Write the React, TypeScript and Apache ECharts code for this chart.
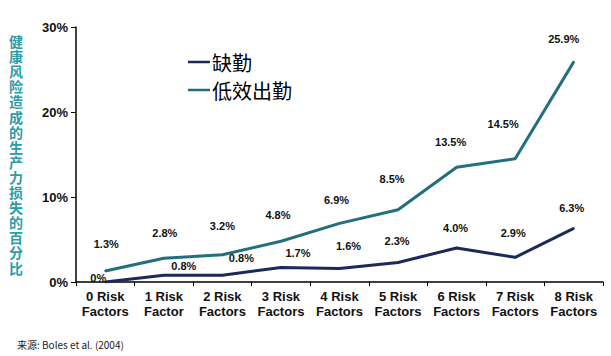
import React, { useEffect, useRef } from "react";
import * as echarts from "echarts";

const categories = [
  "0 Risk\nFactors",
  "1 Risk\nFactor",
  "2 Risk\nFactors",
  "3 Risk\nFactors",
  "4 Risk\nFactors",
  "5 Risk\nFactors",
  "6 Risk\nFactors",
  "7 Risk\nFactors",
  "8 Risk\nFactors",
];
const absenteeism = [0, 0.8, 0.8, 1.7, 1.6, 2.3, 4.0, 2.9, 6.3];
const presenteeism = [1.3, 2.8, 3.2, 4.8, 6.9, 8.5, 13.5, 14.5, 25.9];
const seriesNames = ["缺勤", "低效出勤"];
const yAxisTitle = "健康风险造成的生产力损失的百分比";
const sourceText = "来源: Boles et al. (2004)";

// label nudges (px) from each point, as placed in the original figure
const absLabelNudge = [[-7, -4], [20, -9], [19, -17], [17, -15], [9, -22], [-1, -21], [-1, -20], [-2, -24], [-2, -20]];
const presLabelNudge = [[1, -27], [1, -25], [0, -29], [-3, -26], [-3, -23], [-6, -31], [-6, -25], [-12, -35], [-10, -23]];

const NAVY = "#1B2A58";
const TEAL = "#236F7E";
const FONT = "'Liberation Sans', Arial, sans-serif";
const CJK = "'Noto Sans CJK SC', sans-serif";

export default function App() {
  const ref = useRef<HTMLDivElement>(null);
  useEffect(() => {
    if (!ref.current) return;
    const chart = echarts.init(ref.current, null, { renderer: "svg" });
    const labelFmt = (p: any) => (p.value === 0 ? "0%" : p.value.toFixed(1) + "%");
    const labelStyle = {
      show: true,
      position: "inside",
      formatter: labelFmt,
      fontSize: 11,
      fontWeight: "bold",
      fontFamily: FONT,
      color: "#111",
    };
    const nudge = (arr: number[][]) => (p: any) => {
      const n = arr[p.dataIndex] || [0, 0];
      return { dx: n[0], dy: n[1], hideOverlap: false };
    };
    const titleChars = yAxisTitle.split("").map((ch, i) => ({
      type: "text",
      x: 9,
      y: 34 + i * 15.1,
      style: {
        text: ch,
        fontSize: 14,
        fontWeight: "bold",
        fill: "#2C9CA8",
        fontFamily: CJK,
        textVerticalAlign: "top",
      },
    }));
    chart.setOption({
      animation: false,
      backgroundColor: "#ffffff",
      grid: { left: 76, right: 8, top: 27, bottom: 74 },
      legend: {
        orient: "vertical",
        left: 183,
        top: 47,
        itemWidth: 22,
        itemHeight: 2.5,
        itemGap: 8,
        icon: "rect",
        textStyle: { fontSize: 20, color: "#000", fontFamily: CJK, padding: [0, 0, 0, -3] },
        data: seriesNames,
      },
      xAxis: {
        type: "category",
        data: categories,
        boundaryGap: true,
        axisLine: { lineStyle: { color: "#000", width: 1.5 } },
        axisTick: { show: true, length: 4, inside: false, lineStyle: { color: "#000" } },
        axisLabel: {
          interval: 0,
          color: "#111",
          fontSize: 13,
          fontWeight: "bold",
          fontFamily: FONT,
          lineHeight: 15,
          margin: 7,
        },
      },
      yAxis: {
        type: "value",
        min: 0,
        max: 30,
        interval: 10,
        axisLine: { show: true, lineStyle: { color: "#000", width: 1.5 } },
        axisTick: { show: true, length: 5, lineStyle: { color: "#000" } },
        splitLine: { show: false },
        axisLabel: {
          formatter: "{value}%",
          color: "#111",
          fontSize: 13,
          fontWeight: "bold",
          fontFamily: FONT,
          margin: 8,
        },
      },
      series: [
        {
          name: seriesNames[0],
          type: "line",
          data: absenteeism,
          symbol: "circle",
          symbolSize: 2,
          showSymbol: true,
          color: NAVY,
          lineStyle: { color: NAVY, width: 3 },
          label: labelStyle,
          labelLayout: nudge(absLabelNudge),
        },
        {
          name: seriesNames[1],
          type: "line",
          data: presenteeism,
          symbol: "circle",
          symbolSize: 2,
          showSymbol: true,
          color: TEAL,
          lineStyle: { color: TEAL, width: 3 },
          label: labelStyle,
          labelLayout: nudge(presLabelNudge),
        },
      ],
      graphic: [
        ...titleChars,
        {
          type: "text",
          left: 17,
          top: 339,
          style: {
            text: sourceText,
            fontSize: 10,
            fill: "#222",
            fontFamily: CJK,
          },
        },
      ],
    });
    return () => chart.dispose();
  }, []);
  return <div ref={ref} style={{ width: 611, height: 356, position: "absolute", left: 0, top: 0 }} />;
}
